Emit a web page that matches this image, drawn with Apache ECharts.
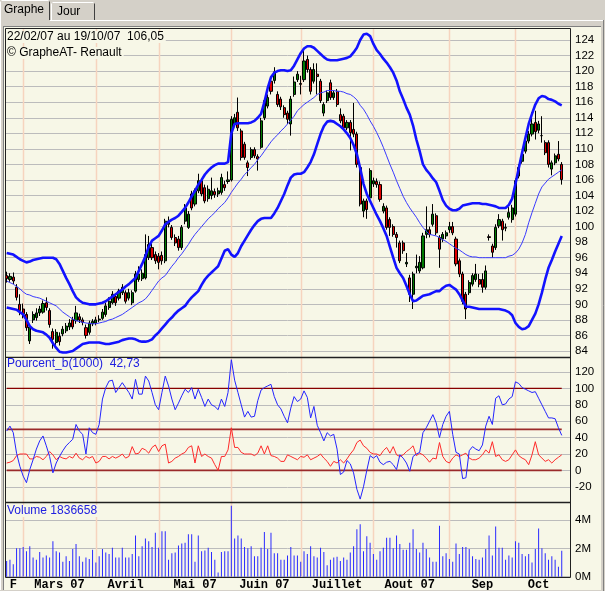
<!DOCTYPE html>
<html><head><meta charset="utf-8">
<script src="https://cdn.jsdelivr.net/npm/echarts@6/dist/echarts.min.js"></script>
<style>html,body{margin:0;padding:0;background:#d4d0c8;overflow:hidden}#c{width:605px;height:591px;}</style>
</head><body><div id="c"></div>
<script>
// ---------- DATA ----------
const startDate = '2007-02-22', endDate = '2007-10-19';
const holidays = ['2007-04-06', '2007-04-09', '2007-05-01'];
const monthLabels = ['F', 'Mars 07', 'Avril', 'Mai 07', 'Juin 07', 'Juillet', 'Aout 07', 'Sep', 'Oct'];
const priceTicks = {min: 84, max: 124, step: 2};
const pctTicks = {min: -20, max: 120, step: 20};
const volTicks = {min: 0, max: 4, step: 2};
const pctLevels = [0, 50, 100];

const opens = [
93.7,93.2,93.5,92.2,90.0,89.4,88.7,85.3,88.0,88.3,
88.9,89.0,90.2,89.2,86.5,85.1,85.9,86.2,86.6,87.1,
88.0,87.9,88.4,88.0,87.0,86.4,87.5,87.6,88.0,88.2,
88.7,89.6,90.2,91.0,90.8,91.5,91.5,90.8,90.2,91.7,
93.2,93.3,93.4,96.0,97.3,96.4,96.2,96.3,95.6,100.3,
99.9,98.6,98.4,97.3,100.7,99.9,104.2,102.9,104.6,105.9,
105.0,103.6,104.0,104.5,104.2,104.4,105.4,105.8,106.0,113.2,
114.7,112.3,110.6,108.2,108.9,109.9,109.0,110.2,114.0,115.5,
118.7,118.8,117.0,116.4,115.3,114.6,113.2,117.0,118.9,118.4,
118.9,121.5,120.2,118.7,119.6,118.7,114.6,116.2,118.5,116.6,
117.4,114.4,114.2,112.7,113.4,112.5,111.9,107.6,102.0,103.3,
103.7,105.5,105.8,105.4,102.0,102.4,100.9,100.0,99.0,97.9,
97.9,95.2,93.4,91.3,94.7,94.3,94.7,99.0,99.6,100.3,
101.4,98.6,98.4,98.8,99.6,100.0,98.4,95.6,93.9,91.3,
91.5,92.6,93.2,93.2,93.2,92.2,98.7,97.5,97.3,100.1,
100.7,99.8,101.2,100.9,101.6,106.5,108.4,109.7,111.0,111.9,
113.4,112.4,111.7,110.8,110.8,107.4,108.2,109.3,108.0];
const closes = [
93.3,93.6,93.0,90.9,89.2,88.8,87.0,87.1,88.7,88.9,
89.4,90.1,89.6,87.4,85.5,86.4,85.2,86.8,87.2,87.6,
87.1,88.9,88.0,87.7,86.0,87.6,87.8,88.0,88.1,89.0,
89.8,90.4,91.3,90.2,91.7,92.2,90.4,91.5,91.5,93.9,
93.9,94.0,96.4,97.7,96.0,95.6,95.4,95.6,100.7,100.7,
98.6,97.9,97.3,99.9,102.4,101.6,102.4,104.6,105.9,104.2,
103.3,104.8,104.6,104.1,104.6,106.3,105.0,106.0,113.8,114.0,
112.7,108.9,108.9,107.6,109.9,109.1,108.7,113.6,116.2,116.6,
117.4,119.9,115.7,115.4,114.4,113.8,116.4,118.6,119.6,118.3,
121.3,120.2,117.4,120.2,119.3,116.2,115.7,117.2,116.6,117.2,
115.7,113.6,112.7,113.4,112.1,111.9,108.0,102.9,103.3,102.2,
107.2,105.9,105.4,103.5,102.6,99.9,99.9,99.0,98.6,95.6,
96.9,95.4,91.3,93.9,94.9,95.4,98.8,99.6,99.0,101.6,
99.2,97.1,99.0,99.2,100.0,99.2,95.2,93.9,90.4,89.4,
92.8,93.7,93.9,92.6,92.2,94.3,98.6,96.7,99.9,100.9,
99.6,99.9,101.8,102.4,105.9,107.6,109.3,111.0,111.9,113.2,
112.2,113.2,111.7,109.5,108.0,108.2,109.1,108.7,106.05];
const lows = [
92.8,92.9,92.6,90.5,88.6,88.2,86.6,84.9,87.6,87.9,
88.5,88.8,89.2,87.0,84.3,84.8,84.7,85.9,86.3,86.7,
86.8,87.5,87.6,87.3,85.6,86.1,87.2,87.3,87.7,88.0,
88.4,89.3,90.0,89.8,90.5,91.2,90.1,90.5,89.9,91.5,
92.9,93.0,93.2,95.7,95.7,95.2,94.5,95.1,95.3,99.9,
98.3,97.5,96.9,97.0,100.3,99.7,102.1,102.6,104.3,103.9,
103.0,103.2,103.5,103.7,103.8,104.1,104.6,105.5,105.8,112.8,
112.3,108.5,108.6,106.5,108.6,108.8,107.2,110.0,113.7,115.2,
117.0,118.4,115.4,115.0,114.0,113.2,111.7,116.7,118.6,117.0,
118.6,119.8,117.0,118.4,117.0,115.9,114.2,115.9,116.3,116.3,
115.4,113.3,112.4,112.4,109.8,111.5,107.6,102.6,101.2,101.0,
103.4,105.1,105.0,103.2,101.7,99.6,98.8,98.7,97.3,95.3,
96.5,94.8,90.3,89.4,94.0,94.0,94.5,98.5,98.6,100.0,
98.9,94.7,98.0,98.4,99.2,98.9,94.9,93.5,90.0,88.1,
91.2,92.3,92.9,92.2,91.5,91.9,98.2,96.0,97.0,99.8,
98.2,99.4,100.9,100.5,101.3,106.2,108.1,109.4,110.7,111.6,
111.2,112.0,110.8,109.2,107.6,106.6,107.9,108.4,105.4];
const highs = [
94.2,94.0,94.1,92.6,91.3,90.1,89.0,87.4,89.1,89.5,
89.8,90.5,90.9,89.5,86.9,86.8,86.4,87.2,87.6,88.1,
88.4,89.8,88.8,88.3,87.4,87.9,88.1,88.4,88.6,89.4,
90.2,90.9,91.7,91.3,92.0,92.6,91.8,92.0,91.8,94.3,
94.9,94.5,99.0,98.8,97.8,96.8,96.6,96.8,101.0,101.3,
100.2,99.0,98.8,100.2,102.9,102.0,104.6,104.9,106.8,106.2,
105.4,105.3,106.3,104.9,105.0,106.8,105.9,107.1,114.2,114.5,
116.6,112.6,110.9,108.5,110.2,110.2,109.3,114.0,116.5,117.0,
119.0,120.5,117.4,116.7,115.6,114.9,116.8,119.3,120.0,119.4,
122.6,122.0,120.5,121.0,121.0,119.0,116.0,117.5,118.9,117.5,
117.7,115.2,114.5,113.7,113.7,115.9,112.2,108.0,103.6,103.6,
107.5,106.3,106.2,105.8,103.0,102.7,101.2,100.3,99.3,98.2,
98.2,96.6,93.8,94.2,96.4,96.2,99.2,102.6,100.0,102.9,
101.7,98.9,99.3,99.5,100.6,100.6,98.7,95.9,94.2,91.6,
93.1,94.0,95.2,93.9,94.0,95.0,99.0,97.8,100.3,101.6,
101.0,100.4,102.5,102.8,106.2,108.0,109.6,111.4,112.3,114.7,
114.9,113.6,114.2,111.1,111.1,108.5,109.4,111.0,108.3];

const upperBand = [
96.6,96.5,96.4,96.1,95.8,95.6,95.4,95.5,95.7,95.8,
95.9,96.0,96.0,96.0,96.0,95.8,95.2,94.3,93.4,92.6,
91.7,90.9,90.5,90.2,90.1,90.0,90.0,90.0,90.1,90.2,
90.4,90.7,91.0,91.3,91.6,91.9,92.3,92.6,93.0,93.4,
94.3,95.2,96.2,97.4,98.2,98.5,98.8,99.5,100.3,100.6,
100.9,101.1,101.4,101.9,102.4,103.1,103.9,104.6,105.4,106.0,
106.7,107.2,107.6,107.9,108.1,108.1,108.1,108.3,112.0,113.2,
113.3,113.3,113.3,113.3,113.4,113.6,114.0,114.5,116.0,117.8,
119.2,119.8,120.0,120.1,120.1,120.0,120.1,120.7,121.5,122.3,
122.9,123.2,123.2,123.0,122.6,122.2,121.8,121.5,121.4,121.4,
121.4,121.5,121.6,121.7,121.9,122.4,123.0,124.0,124.7,124.8,
124.5,123.5,122.7,122.2,121.6,121.1,120.5,119.8,118.8,117.4,
116.4,115.3,114.4,113.0,111.2,109.7,108.0,107.3,106.8,106.2,
105.7,104.6,103.4,102.7,102.3,102.1,102.1,102.3,102.7,102.8,
102.9,103.0,103.0,103.0,102.9,102.9,102.8,102.7,102.6,102.4,
102.4,102.4,102.8,103.6,105.5,107.5,109.5,111.4,113.2,114.5,
115.7,116.5,116.8,116.7,116.4,116.3,116.1,115.8,115.6];
const middleBand = [
93.0,92.8,92.6,92.3,92.0,91.6,91.3,91.2,91.0,90.9,
90.8,90.6,90.4,90.2,90.0,89.8,89.4,89.0,88.7,88.4,
88.1,87.9,87.8,87.7,87.6,87.55,87.5,87.5,87.6,87.7,
87.8,88.0,88.1,88.3,88.5,88.7,89.0,89.3,89.6,89.9,
90.2,90.4,90.7,91.2,91.8,92.4,93.0,93.4,93.7,94.3,
94.9,95.4,96.0,96.5,97.1,97.7,98.4,99.0,99.5,100.0,
100.5,101.0,101.4,101.8,102.3,102.7,103.1,103.7,104.4,105.0,
105.6,106.1,106.7,107.1,107.6,108.0,108.6,109.1,109.7,110.3,
110.9,111.4,111.8,112.3,112.7,113.2,113.7,114.2,114.9,115.3,
115.7,116.0,116.3,116.6,117.0,117.2,117.3,117.5,117.5,117.5,
117.4,117.4,117.3,117.1,117.0,116.7,116.3,115.6,115.1,114.4,
113.6,112.9,112.1,111.2,110.2,109.1,108.0,107.0,105.9,104.9,
103.9,103.1,102.4,101.8,101.2,100.5,99.9,99.4,99.0,98.9,
98.8,98.6,98.3,98.1,97.8,97.5,97.2,97.0,96.7,96.4,
96.2,96.1,96.1,96.0,96.0,96.0,96.0,96.0,96.0,96.0,
96.0,96.0,96.2,96.3,96.6,97.1,97.9,99.0,100.5,101.8,
103.0,104.2,105.1,105.6,106.1,106.4,106.7,107.0,107.3];
const lowerBand = [
89.6,89.5,89.4,89.3,89.0,88.7,88.0,87.2,86.8,86.6,
86.5,86.4,86.1,85.7,85.0,84.4,83.9,83.8,83.8,83.9,
84.0,84.3,84.6,84.9,85.0,85.1,85.1,85.1,85.1,85.0,
84.9,84.9,85.0,85.1,85.2,85.4,85.5,85.6,85.6,85.5,
85.3,85.2,85.2,85.3,85.5,86.0,86.4,86.9,87.4,87.9,
88.3,88.8,89.2,89.5,89.8,90.4,90.9,91.3,91.7,92.5,
93.2,93.7,94.1,94.5,94.9,95.9,96.9,97.1,96.4,96.1,
96.6,97.5,98.2,98.9,99.6,100.2,100.7,101.0,101.1,101.1,
101.1,101.7,102.4,103.3,104.2,105.3,106.3,106.7,106.8,106.8,
107.0,107.6,108.3,109.3,110.6,111.9,112.9,113.5,113.6,113.5,
113.2,112.9,112.5,112.0,111.4,110.5,109.3,107.5,105.5,104.2,
103.3,102.4,101.5,100.7,99.8,98.8,97.4,96.0,94.7,94.0,
93.4,92.4,91.3,90.4,90.5,90.8,91.1,91.2,91.3,91.5,
91.7,91.7,92.1,92.4,92.5,92.2,91.9,91.3,90.5,89.7,
89.7,89.6,89.5,89.4,89.4,89.4,89.4,89.4,89.4,89.4,
89.3,89.2,89.0,88.6,87.6,87.1,86.8,86.9,87.2,88.0,
88.8,90.0,91.5,93.2,94.7,95.7,96.8,97.8,98.8];

const pctB = [
48,54,46,21,5,-7,-15,1,13,26,
36,42,30,17,-3,9,17,24,30,34,
38,56,48,44,20,52,46,44,56,87,
101,109,110,95,101,107,101,95,87,111,
93,93,115,109,95,80,74,95,115,103,
87,74,82,91,99,95,101,87,99,89,
78,87,80,78,74,87,78,95,135,110,
95,80,65,72,65,66,85,98,101,103,
105,90,80,75,66,58,76,90,84,87,
97,89,64,78,55,46,36,46,42,44,
26,-5,-2,12,8,-3,-23,-35,-20,0,
18,15,18,10,7,10,11,7,1,19,
15,9,-1,17,20,22,46,52,60,68,
58,40,56,66,72,44,22,20,-10,-9,
24,29,26,24,31,54,66,56,88,91,
80,81,87,90,108,106,101,99,97,95,
96,88,80,72,64,64,63,52,42.73];
const pctRed = [
9,10,12,18,20,20,20,14,14,17,
16,13,17,23,19,13,17,15,14,17,
15,21,15,13,17,15,17,9,11,17,
17,14,17,15,17,20,15,17,29,20,
21,27,25,21,28,31,23,30,32,9,
11,15,17,20,22,28,30,9,30,17,
20,17,15,7,0,17,17,25,52,28,
28,22,20,20,20,18,21,30,20,30,
18,17,15,11,11,19,17,15,13,17,
16,19,13,15,17,20,15,11,5,11,
9,13,9,14,20,25,34,37,30,27,
22,20,20,18,24,28,21,29,19,17,
19,23,26,30,18,21,19,15,10,15,
14,34,17,11,9,15,19,17,19,21,
15,13,13,15,19,25,21,35,17,19,
13,11,13,19,25,18,15,13,7,19,
35,19,15,11,13,9,13,16,19];
// volume, millions of shares
const volumeM = [
1.1,1.2,0.87,2.0,2.0,2.1,1.8,2.15,1.35,1.2,
1.75,1.35,1.5,1.35,2.5,1.8,1.7,1.05,1.45,1.1,
1.95,2.3,1.45,1.05,1.35,1.25,1.9,1.0,1.45,1.95,
1.7,1.6,2.05,1.35,1.35,2.05,1.35,1.35,1.6,2.9,
1.45,2.15,2.7,2.5,2.1,3.1,2.05,3.2,3.2,1.2,
1.65,1.7,2.2,2.35,2.4,3.0,3.0,1.05,2.9,1.8,
1.85,2.05,1.75,1.2,0.3,1.75,1.8,1.8,5.0,2.7,
2.9,2.7,2.1,2.0,2.15,1.45,1.45,2.05,3.15,1.95,
3.1,1.65,1.65,1.2,1.2,1.5,2.1,1.5,1.5,1.05,
1.8,1.6,2.15,1.45,1.35,2.05,1.75,0.8,1.2,1.35,
1.4,1.1,1.35,1.2,1.7,2.15,3.35,3.7,1.8,2.85,
2.4,1.6,1.2,1.8,2.05,2.75,2.75,2.0,2.9,2.3,
1.9,1.9,2.4,3.35,1.95,1.7,2.4,1.95,1.35,1.05,
1.05,3.6,1.45,1.65,1.25,1.05,2.35,1.6,2.1,2.1,
1.95,1.45,1.25,1.2,1.35,1.95,2.9,1.5,3.55,2.05,
2.05,1.2,1.5,1.35,2.5,2.4,1.6,1.45,1.6,1.0,
1.95,3.4,2.0,1.65,1.2,1.45,1.2,0.7,1.836658];

// ---------- categories ----------
function tradingDays(s, e, hol) {
  const out = [];
  const d = new Date(s + 'T00:00:00Z'), end = new Date(e + 'T00:00:00Z');
  while (d <= end) {
    const wd = d.getUTCDay(), iso = d.toISOString().slice(0, 10);
    if (wd !== 0 && wd !== 6 && hol.indexOf(iso) < 0) out.push(iso);
    d.setUTCDate(d.getUTCDate() + 1);
  }
  return out;
}
const dates = tradingDays(startDate, endDate, holidays);
const cats = dates.concat(['pad-1', 'pad-2']);
const monthStart = [];
dates.forEach((d, i) => { if (i === 0 || d.slice(5, 7) !== dates[i - 1].slice(5, 7)) monthStart.push(i); });
const labelAt = {};
monthStart.forEach((s, m) => {
  const e = m + 1 < monthStart.length ? monthStart[m + 1] - 1 : dates.length - 1;
  labelAt[Math.floor((s + e + 1) / 2)] = monthLabels[m];
});
const candles = opens.map((o, i) => [o, closes[i], lows[i], highs[i]]);
const fmt2 = v => v.toFixed(2).replace('.', ',');

// ---------- styling ----------
const CREAM = '#f7f7e7', GRAYBG = '#d4d0c8', GRID = '#bcbcbc', MONTHLINE = '#f6d4be';
const labelFont = {color: '#000', fontSize: 11.5, fontFamily: 'Liberation Sans', margin: 5};
const P = {l: 5, r: 570, top: 28, sep1: 357, sep2: 502, bottom: 577};

function xAx(gi, showLabel) {
  return {
    type: 'category', gridIndex: gi, data: cats, boundaryGap: true,
    axisLine: {show: false}, axisTick: {show: false}, splitLine: {show: false},
    axisLabel: showLabel ? {
      show: true, interval: (i) => labelAt[i] !== undefined, formatter: (v, i) => labelAt[i] || '',
      color: '#000', fontFamily: 'Liberation Mono', fontWeight: 'bold', fontSize: 12, margin: 2, hideOverlap: false
    } : {show: false}
  };
}
function yAx(gi, t, fmt) {
  return {
    type: 'value', gridIndex: gi, position: 'right', min: t.min, max: t.max, interval: t.step,
    axisLine: {show: false}, axisTick: {show: false},
    axisLabel: Object.assign({formatter: fmt || '{value}'}, labelFont),
    splitLine: {show: true, lineStyle: {color: GRID, width: 1}}
  };
}
function lineS(xi, data, color, width, z) {
  return {type: 'line', xAxisIndex: xi, yAxisIndex: xi, data: data, symbol: 'none', clip: false,
    lineStyle: {color: color, width: width}, silent: true, z: z || 3};
}

const series = [
  {type: 'candlestick', xAxisIndex: 0, yAxisIndex: 0, data: candles, barWidth: 2.6, silent: true, z: 2,
   itemStyle: {color: '#007a00', color0: '#e00000', borderColor: '#000', borderColor0: '#000', borderWidth: 1}},
  lineS(0, middleBand, '#3a3aff', 1),
  lineS(0, upperBand, '#1212ff', 2.6),
  lineS(0, lowerBand, '#1212ff', 2.6)
];
pctLevels.forEach(v => series.push(lineS(1, dates.map(() => v), v === 100 ? '#880000' : '#9a2a2a', v === 100 ? 1.2 : 1.6, 2)));
series.push(lineS(1, pctRed, '#ff2a2a', 1));
series.push(lineS(1, pctB, '#2424ff', 1));
series.push({type: 'bar', xAxisIndex: 2, yAxisIndex: 2, data: volumeM, barWidth: 1, clip: false, silent: true,
  itemStyle: {color: '#2a2aff'}});

function txt(x, y, text, color, font, bg) {
  return {type: 'text', x: x, y: y, z: 60, silent: true,
    style: {text: text, fill: color, font: font, verticalAlign: 'middle', align: 'left',
      backgroundColor: bg || 'transparent', padding: bg ? [0, 2, 0, 1] : 0}};
}
function ln(x1, y1, x2, y2, c, w, z) {
  return {type: 'line', z: z || 55, silent: true, shape: {x1: x1, y1: y1, x2: x2, y2: y2}, style: {stroke: c, lineWidth: w || 1}};
}

const chart = echarts.init(document.getElementById('c'), null, {renderer: 'canvas'});
chart.setOption({
  animation: false,
  backgroundColor: CREAM,
  grid: [
    {left: 5, right: 35, top: 40, height: 311, outerBoundsMode: 'none', containLabel: false},
    {left: 5, right: 35, top: 372, height: 114.8, outerBoundsMode: 'none', containLabel: false},
    {left: 5, right: 35, top: 520, height: 56.7, outerBoundsMode: 'none', containLabel: false}
  ],
  xAxis: [xAx(0, false), xAx(1, false), xAx(2, true)],
  yAxis: [yAx(0, priceTicks), yAx(1, pctTicks), yAx(2, volTicks, '{value}M')],
  series: series
});

// month separators: x from the chart's own category scale, spanning all three panels
const monthLines = monthStart.slice(1).map(i => {
  const x = Math.round(chart.convertToPixel({xAxisIndex: 0}, dates[i])) + 0.5;
  return ln(x, P.top, x, P.bottom, MONTHLINE, 1.5, 1);
});

// window chrome (grey) drawn around the cream chart area, frames and captions on top
const graphics = [
  {type: 'rect', z: 50, silent: true, shape: {x: 0, y: 0, width: 605, height: 27}, style: {fill: GRAYBG}},
  {type: 'rect', z: 50, silent: true, shape: {x: 0, y: 0, width: 4, height: 591}, style: {fill: GRAYBG}},
  {type: 'rect', z: 50, silent: true, shape: {x: 601, y: 0, width: 4, height: 591}, style: {fill: GRAYBG}},
  {type: 'rect', z: 50, silent: true, shape: {x: 0, y: 590, width: 605, height: 1}, style: {fill: GRAYBG}},
  ln(0.5, 20, 0.5, 1.5, '#ffffff'), ln(1.5, 0.5, 48.5, 0.5, '#ffffff'), ln(49.5, 1.5, 49.5, 20, '#404040'),
  ln(51.5, 20, 51.5, 3.5, '#ffffff'), ln(52.5, 2.5, 93.5, 2.5, '#ffffff'), ln(94.5, 3.5, 94.5, 20, '#404040'),
  ln(50, 20.5, 603, 20.5, '#ffffff'), ln(0.5, 20, 0.5, 590, '#ffffff'), ln(603.5, 20, 603.5, 591, '#808080'),
  ln(3, 26.5, 601, 26.5, '#808080'), ln(3.5, 26.5, 3.5, 590, '#808080'),
  txt(4, 10, 'Graphe', '#000', '12px "Liberation Sans"'),
  txt(57, 11.5, 'Jour', '#000', '12px "Liberation Sans"'),
  {type: 'rect', z: 55, silent: true, shape: {x: P.l + 0.5, y: P.top + 0.5, width: P.r - P.l, height: P.bottom - P.top},
   style: {fill: 'none', stroke: '#202020', lineWidth: 1}},
  ln(P.l, P.sep1 + 0.5, P.r, P.sep1 + 0.5, '#202020', 1.5),
  ln(P.l, P.sep2 + 0.5, P.r, P.sep2 + 0.5, '#202020', 1.5),
  txt(6, 37, startDate.slice(8, 10) + '/' + startDate.slice(5, 7) + '/' + startDate.slice(2, 4) + ' au ' +
      endDate.slice(8, 10) + '/' + endDate.slice(5, 7) + '/' + endDate.slice(2, 4) + '  ' + fmt2(closes[closes.length - 1]),
      '#000', '12px "Liberation Sans"', CREAM),
  txt(6, 53, '\u00a9 GrapheAT- Renault', '#000', '12px "Liberation Sans"', CREAM),
  txt(6, 364, 'Pourcent_b(1000)  ' + fmt2(pctB[pctB.length - 1]), '#2020e0', '12px "Liberation Sans"', CREAM),
  txt(6, 511, 'Volume ' + Math.round(volumeM[volumeM.length - 1] * 1e6), '#2020e0', '12px "Liberation Sans"', CREAM)
].concat(monthLines);
chart.setOption({graphic: {elements: graphics}});
</script>
</body></html>
